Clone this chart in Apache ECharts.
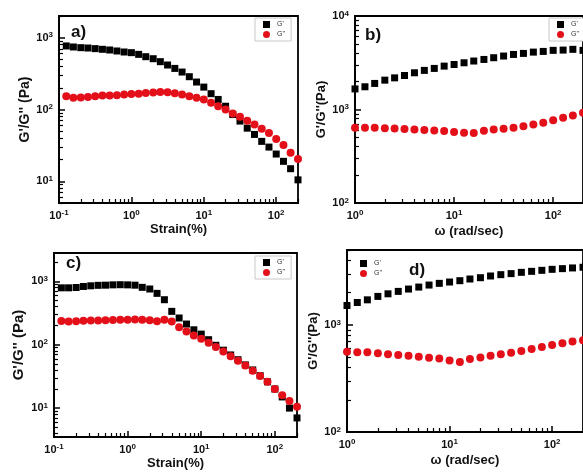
<!DOCTYPE html>
<html><head><meta charset="utf-8">
<script src="https://cdn.jsdelivr.net/npm/echarts@6/dist/echarts.min.js"></script>
<style>html,body{margin:0;padding:0;background:#fff}#c{width:583px;height:475px}</style>
</head><body><div id="c"></div>
<script>
// ---- data ----
const strain = [0.126,0.158,0.2,0.251,0.316,0.398,0.501,0.631,0.794,1,1.26,1.58,2,2.51,3.16,3.98,5.01,6.31,7.94,10,12.6,15.8,20,25.1,31.6,39.8,50.1,63.1,79.4,100,126,158,200];
const omega = [1,1.26,1.58,2,2.51,3.16,3.98,5.01,6.31,7.94,10,12.6,15.8,20,25.1,31.6,39.8,50.1,63.1,79.4,100,126,158,200];

const aGp  = [766,741,725,717,703,688,673,652,631,618,585,543,509,463,416,373,332,286,241,205,166,138,111,85,69,55,45,36,30,24,19,15,10.5];
const aGpp = [153,146,147,149,153,157,157,158,162,164,166,169,173,175,174,168,162,153,146,138,124,111,100,88,79,70,62,54,47,39,32,25,20.5];

const bGp  = [1660,1750,1900,2060,2180,2310,2470,2620,2750,2910,3030,3160,3300,3430,3580,3730,3880,3980,4110,4180,4290,4320,4400,4290];
const bGpp = [637,637,637,630,626,620,612,605,596,588,575,565,562,592,610,622,637,663,690,720,769,815,863,921];

const cGp  = [790,790,800,830,850,865,870,880,885,880,870,804,757,646,513,336,264,212,172,147,120,98,82,69,58,48,40,32.5,26,20,15,10,7];
const cGpp = [236,233,235,238,240,241,243,245,247,248,250,248,244,235,248,232,188,162,140,124,107,92,78,66,56,47,39,32,26,20,16,13,10.5];

const dGp  = [1517,1618,1713,1844,1950,2054,2160,2254,2354,2441,2512,2585,2680,2757,2860,2943,3010,3093,3160,3230,3300,3350,3400,3450];
const dGpp = [562,555,555,542,531,524,516,505,494,485,465,450,480,497,516,531,550,570,596,622,650,674,698,720];

// ---- ticks ----
const strainMajor = [0.1,1,10,100];
const strainMinor = [0.2,0.3,0.4,0.5,0.6,0.7,0.8,0.9,2,3,4,5,6,7,8,9,20,30,40,50,60,70,80,90,200];
const omegaMajor = [1,10,100];
const omegaMinor = [2,3,4,5,6,7,8,9,20,30,40,50,60,70,80,90,200];
const yMajorAC = [10,100,1000];
const yMinorAC = [4,5,6,7,8,9,20,30,40,50,60,70,80,90,200,300,400,500,600,700,800,900,2000];
const yMajorB = [100,1000,10000];
const yMajorD = [100,1000];
const yMinorBD = [200,300,400,500,600,700,800,900,2000,3000,4000,5000,6000,7000,8000,9000];

const names = {strain:'Strain(%)', omega:'\u03c9 (rad/sec)', yA:"G'/G'' (Pa)", yB:"G'/G''(Pa)"};
const panelLabels = ['a)','b)','c)','d)'];

// ---- layout ----
const grids = [
  {left:59, top:16, width:239, height:187},
  {left:355, top:16, width:229, height:187},
  {left:54, top:253, width:243, height:184},
  {left:347, top:250, width:245, height:182}
];
const FONT = 'Liberation Sans, Arial, sans-serif';
const RED = '#e3101a';

function supFmt(v){ return '10{s|' + Math.round(Math.log10(v)) + '}'; }
const labelRich = { s:{fontSize:8, fontWeight:'bold', fontFamily:FONT, color:'#111', verticalAlign:'top', lineHeight:13} };

function mainAxis(dim, gi, min, max, major, name, nameGap, extra){
  return Object.assign({
    type:'log', logBase:10, gridIndex:gi, min:min, max:max,
    position: dim==='x' ? 'bottom' : 'left',
    name:name, nameLocation:'middle', nameGap:nameGap,
    nameRotate: dim==='y' ? 90 : 0,
    nameTextStyle:{fontFamily:FONT, fontWeight:'bold', fontSize:13, color:'#111'},
    axisLine:{show:true, onZero:false, lineStyle:{color:'#000', width:1.8}},
    axisTick:{show:true, inside:true, length:6, customValues:major, lineStyle:{color:'#000', width:1.5}},
    axisLabel:{show:true, customValues:major, formatter:supFmt, fontFamily:FONT, fontWeight:'bold', fontSize:11, color:'#111', lineHeight:13, margin:6, rich:labelRich},
    splitLine:{show:false}
  }, extra||{});
}
function minorAxis(dim, gi, min, max, minor){
  return {
    type:'log', logBase:10, gridIndex:gi, min:min, max:max,
    position: dim==='x' ? 'bottom' : 'left',
    axisLine:{show:false},
    axisTick:{show:true, inside:true, length:4, customValues:minor, lineStyle:{color:'#000', width:1.2}},
    axisLabel:{show:false}, splitLine:{show:false}
  };
}

const xAxis = [
  mainAxis('x',0,0.1,200,strainMajor,names.strain,20),
  minorAxis('x',0,0.1,200,strainMinor),
  mainAxis('x',1,1,200,omegaMajor,names.omega,22),
  minorAxis('x',1,1,200,omegaMinor),
  mainAxis('x',2,0.1,200,strainMajor,names.strain,18),
  minorAxis('x',2,0.1,200,strainMinor),
  mainAxis('x',3,1,200,omegaMajor,names.omega,22),
  minorAxis('x',3,1,200,omegaMinor)
];
const yAxis = [
  mainAxis('y',0,5,2000,yMajorAC,names.yA,26,{nameTextStyle:{fontFamily:FONT,fontWeight:'bold',fontSize:14,color:'#111'}}),
  minorAxis('y',0,5,2000,yMinorAC),
  mainAxis('y',1,100,10000,yMajorB,names.yB,23),
  minorAxis('y',1,100,10000,yMinorBD),
  mainAxis('y',2,3.5,2800,yMajorAC,names.yA,28,{nameTextStyle:{fontFamily:FONT,fontWeight:'bold',fontSize:15,color:'#111'}}),
  minorAxis('y',2,3.5,2800,yMinorAC),
  mainAxis('y',3,100,5000,yMajorD,names.yB,18),
  minorAxis('y',3,100,5000,yMinorBD)
];

function pairs(xs, ys){ return ys.map((y,i)=>[xs[i], y]); }
const sets = [[strain,aGp,aGpp],[omega,bGp,bGpp],[strain,cGp,cGpp],[omega,dGp,dGpp]];
const series = [];
sets.forEach((s,gi)=>{
  series.push({type:'scatter', name:"G'", xAxisIndex:2*gi, yAxisIndex:2*gi, symbol:'rect', symbolSize:7, itemStyle:{color:'#000', opacity:1}, data:pairs(s[0],s[1]), clip:true, z:3});
  series.push({type:'scatter', name:"G''", xAxisIndex:2*gi, yAxisIndex:2*gi, symbol:'circle', symbolSize:8, itemStyle:{color:RED, opacity:1}, data:pairs(s[0],s[2]), clip:true, z:4});
});

function legend(pos, border){
  return Object.assign({
    orient:'vertical', itemWidth:7, itemHeight:7, itemGap:3, padding:[3,6,3,8],
    backgroundColor:'#fff', borderColor: border ? '#c8c8c8' : 'transparent', borderWidth:1,
    textStyle:{fontFamily:FONT, fontSize:7, color:'#333', padding:[0,0,0,2]},
    selectedMode:false,
    data:[{name:"G'", icon:'rect'},{name:"G''", icon:'circle'}]
  }, pos);
}

const option = {
  animation:false,
  backgroundColor:'#fff',
  grid: grids.map(g=>Object.assign({show:true, borderColor:'#000', borderWidth:1.8, backgroundColor:'transparent', containLabel:false}, g)),
  xAxis: xAxis, yAxis: yAxis, series: series,
  legend: [
    legend({left:255, top:18}, true),
    legend({left:549, top:18}, true),
    legend({left:255, top:256}, true),
    legend({left:352, top:257}, false)
  ],
  title: panelLabels.map((t,i)=>({
    text:t, left:[66,360,61,404][i], top:[19,22,250,257][i],
    textStyle:{fontFamily:FONT, fontWeight:'bold', fontSize:17, color:'#111'}
  }))
};
const chart = echarts.init(document.getElementById('c'), null, {renderer:'canvas'});
chart.setOption(option);
</script></body></html>
